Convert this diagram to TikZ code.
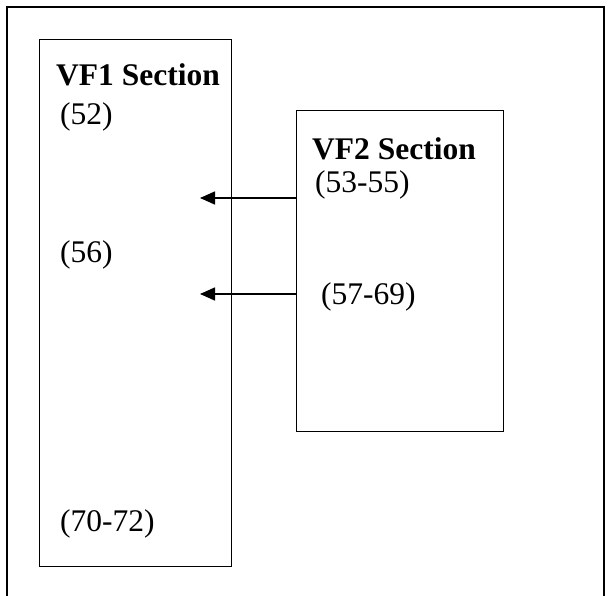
\documentclass[tikz,border=0pt]{standalone}
\usepackage{fontspec}
\setmainfont{Liberation Serif}
\usetikzlibrary{arrows.meta}
\begin{document}
\begin{tikzpicture}[x=1pt,y=-1pt,
  frame/.style={draw=black,line width=1.4pt},
  lbl/.style={anchor=base west,inner sep=0pt,font=\fontsize{31.5}{38}\selectfont},
  hdr/.style={lbl,font=\fontsize{31.5}{38}\selectfont\bfseries},
  arr/.style={line width=1.6pt,-{Triangle[length=15pt,width=13pt]}}]
\useasboundingbox (0,0) rectangle (608,596);
% outer frame (bottom open)
\draw[frame] (7,596) -- (7,7) -- (604,7) -- (604,596);
% boxes
\node[frame,rectangle,minimum width=192pt,minimum height=527pt,anchor=north west,inner sep=0pt] (vf1) at (39,39) {};
\node[frame,rectangle,minimum width=207pt,minimum height=321pt,anchor=north west,inner sep=0pt] (vf2) at (296,110) {};
% texts
\node[hdr] (t1) at (56,86) {VF1 Section};
\node[lbl] (t2) at (60,125) {(52)};
\node[hdr] (t3) at (312,160) {VF2 Section};
\node[lbl] (t4) at (315,193) {(53-55)};
\node[lbl] (t5) at (60,262) {(56)};
\node[lbl] (t6) at (321,304) {(57-69)};
\node[lbl] (t7) at (60,531) {(70-72)};
% arrows
\coordinate (a1) at (200,198);
\coordinate (a2) at (200,294);
\draw[arr] (vf2.west |- a1) -- (a1);
\draw[arr] (vf2.west |- a2) -- (a2);
\end{tikzpicture}
\end{document}
